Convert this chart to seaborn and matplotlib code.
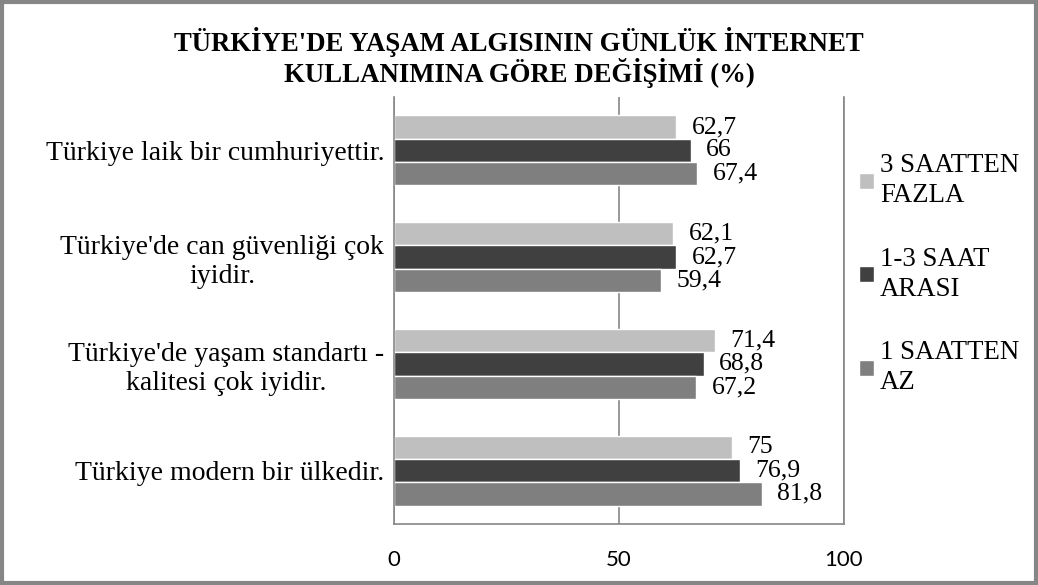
from matplotlib import pyplot as plt
from matplotlib.patches import Rectangle
import seaborn as sns
import pandas as pd

categories = ["Türkiye laik bir cumhuriyettir.",
              "Türkiye'de can güvenliği çok\niyidir.",
              "Türkiye'de yaşam standartı -\nkalitesi çok iyidir.",
              "Türkiye modern bir ülkedir."]
series = ["3 SAATTEN FAZLA", "1-3 SAAT ARASI", "1 SAATTEN AZ"]
legend_labels = ["3 SAATTEN\nFAZLA", "1-3 SAAT\nARASI", "1 SAATTEN\nAZ"]
fazla = [62.7, 62.1, 71.4, 75]
arasi = [66, 62.7, 68.8, 76.9]
az = [67.4, 59.4, 67.2, 81.8]
colors = ['#BFBFBF', '#404040', '#7F7F7F']
x_ticks = [0, 50, 100]

sns.set_theme(style='white')
plt.rcParams['font.family'] = ['Liberation Serif', 'DejaVu Serif']
plt.rcParams['text.color'] = 'black'
plt.rcParams['xtick.color'] = 'black'
plt.rcParams['ytick.color'] = 'black'

df = pd.DataFrame({
    'kategori': categories * 3,
    'grup': [s for s in series for _ in categories],
    'deger': fazla + arasi + az,
})

fig = plt.figure(figsize=(10.38, 5.85), dpi=100)
ax = fig.add_axes([0.3796, 0.1043, 0.4335, 0.7299])

sns.barplot(data=df, y='kategori', x='deger', hue='grup', order=categories,
            hue_order=series, palette=colors, orient='h', width=0.656,
            saturation=1, ax=ax, legend=True)

for cont in ax.containers:
    labels = [('%g' % b.get_width()).replace('.', ',') for b in cont]
    ax.bar_label(cont, labels=labels, padding=11, fontsize=18.5,
                 family='Liberation Serif', color='black')

ax.set_xlim(0, 100)
ax.set_xticks(x_ticks)
ax.set_xticklabels([str(t) for t in x_ticks], family='Lato', fontsize=16)
ax.tick_params(axis='x', length=0, pad=19, labelcolor='black')
ax.tick_params(axis='y', length=0, pad=7, labelcolor='black')
for lab in ax.get_yticklabels():
    lab.set_fontsize(20)
    lab.set_multialignment('center')
    lab.set_linespacing(1.2)
ax.set_xlabel('')
ax.set_ylabel('')
ax.xaxis.grid(True, color='#868686', linewidth=1.2)
ax.set_axisbelow(True)
ax.spines['top'].set_visible(False)
for s in ['left', 'right', 'bottom']:
    ax.spines[s].set_color('#868686')
    ax.spines[s].set_linewidth(1.2)

handles, _ = ax.get_legend_handles_labels()
leg = ax.legend(handles, legend_labels, loc='center left', bbox_to_anchor=(1.01, 0.585),
                frameon=False, fontsize=19.3, handlelength=0.55, handleheight=0.55,
                handletextpad=0.22, labelspacing=1.45, borderaxespad=0)
for t in leg.get_texts():
    t.set_linespacing(1.25)

fig.text(0.5, 0.902, "TÜRKİYE'DE YAŞAM ALGISININ GÜNLÜK İNTERNET\nKULLANIMINA GÖRE DEĞİŞİMİ (%)",
         ha='center', va='center', fontsize=19.3, fontweight='bold',
         linespacing=1.05)

fig.patches.append(Rectangle((0.0015, 0.003), 0.997, 0.994, transform=fig.transFigure,
                             fill=False, edgecolor='#868686', linewidth=3))

plt.savefig('out.png', dpi=100)
